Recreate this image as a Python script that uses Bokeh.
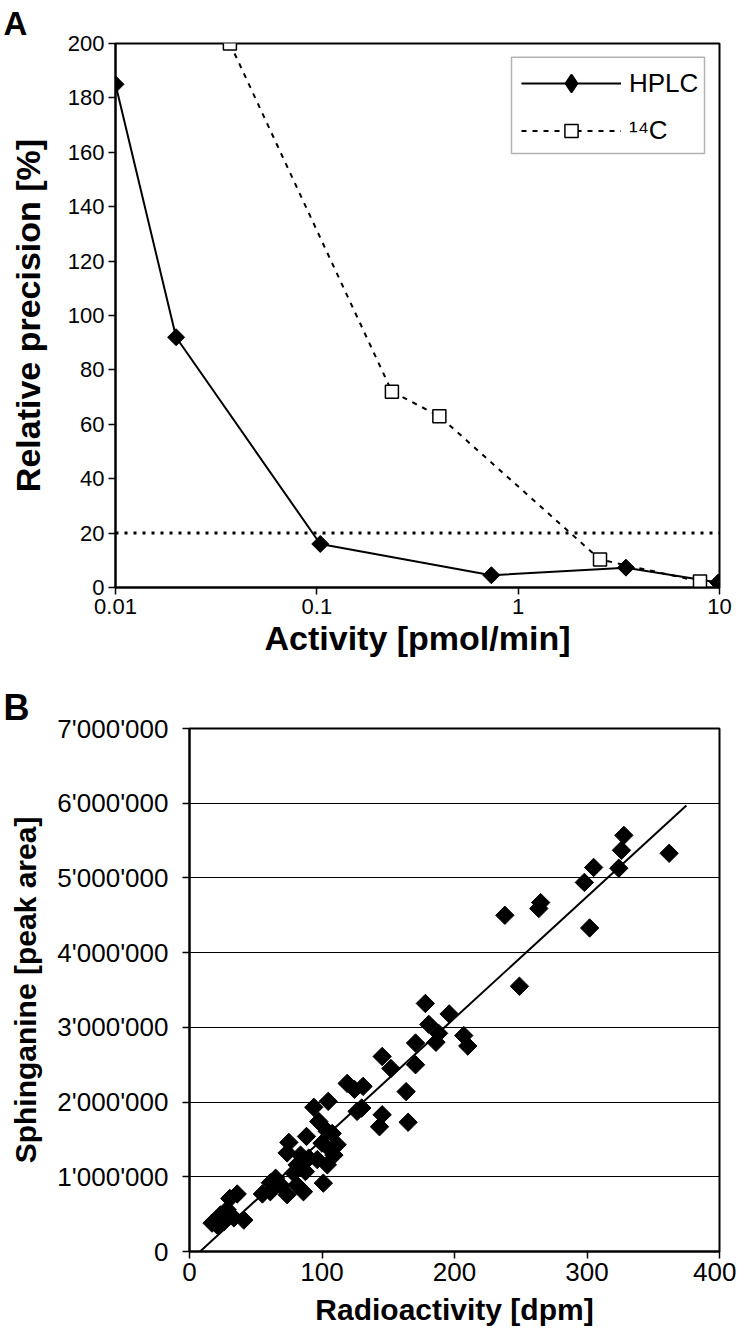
import numpy as np
from bokeh.plotting import figure
from bokeh.models import (FixedTicker, Span, Legend, LegendItem, BoxAnnotation, Title,
                          ColumnDataSource)
from bokeh.core.properties import value
from bokeh.embed import file_html
from bokeh.resources import INLINE

# ---------------- Panel A data ----------------
hplc_activity = [0.01, 0.02, 0.104, 0.736, 3.43, 9.85]
hplc_precision = [185, 92, 16, 4.5, 7.3, 1.8]
c14_activity = [0.037, 0.236, 0.406, 2.55, 8.0]
c14_precision = [200, 72, 63, 10.3, 2.2]
precision_threshold = 20
a_xticks = [0.01, 0.1, 1, 10]
a_xtick_labels = ["0.01", "0.1", "1", "10"]
a_yticks = [0, 20, 40, 60, 80, 100, 120, 140, 160, 180, 200]

# ---------------- Panel B data ----------------
radio_dpm = [327.8, 326, 324, 305, 298, 362, 265, 263.6, 238, 302,
             249, 178, 196, 180.6, 188, 186, 170.6, 207, 210, 145.4,
             152, 170.6, 163.5, 119, 124.5, 131, 130, 126.5, 104.7, 93.8,
             145.4, 143.4, 165, 97.6, 103.9, 107.7, 88.3, 75, 111.4, 73.7,
             109, 83.8, 90, 96.4, 81.3, 104, 87.5, 101, 65, 68.7,
             61, 55, 73.7, 81, 86, 78.7, 36, 30.4, 41, 33.5,
             28.4, 23.4, 17, 21, 26, 61, 100, 107]
peak_area_millions = [5.57, 5.37, 5.13, 5.14, 4.94, 5.33, 4.67, 4.59, 4.50, 4.33,
                      3.55, 3.32, 3.18, 3.04, 2.92, 2.80, 2.79, 2.89, 2.75, 2.61,
                      2.45, 2.50, 2.14, 2.25, 2.17, 2.21, 1.92, 1.875, 2.01, 1.93,
                      1.83, 1.67, 1.73, 1.74, 1.61, 1.58, 1.54, 1.46, 1.43, 1.32,
                      1.29, 1.29, 1.25, 1.23, 1.16, 1.16, 1.07, 0.915, 0.98, 0.89,
                      0.92, 0.77, 0.76, 0.89, 0.80, 1.05, 0.77, 0.71, 0.42, 0.45,
                      0.56, 0.49, 0.38, 0.35, 0.40, 0.80, 1.45, 1.35]
fit_dpm = [0, 375]
fit_area = [-130000, 5970000]
b_xticks = [0, 100, 200, 300, 400]
b_yticks = [0, 1000000, 2000000, 3000000, 4000000, 5000000, 6000000, 7000000]
b_ytick_labels = ["0", "1'000'000", "2'000'000", "3'000'000", "4'000'000",
                  "5'000'000", "6'000'000", "7'000'000"]

peak_area = [v * 1e6 for v in peak_area_millions]

FONT = "Liberation Sans"


def style_axis(ax, size, title_size):
    ax.axis_line_width = 2
    ax.axis_line_color = "black"
    ax.major_tick_line_width = 1.5
    ax.major_tick_line_color = "black"
    ax.major_tick_out = 7
    ax.major_tick_in = 0
    ax.minor_tick_line_color = None
    ax.major_label_text_font = FONT
    ax.major_label_text_font_size = size
    ax.major_label_text_color = "black"
    ax.axis_label_text_font = FONT
    ax.axis_label_text_font_size = title_size
    ax.axis_label_text_font_style = "bold"
    ax.axis_label_text_color = "black"


# ---------------- Figure A ----------------
pA = figure(width=736, height=664, x_axis_type="log", x_range=(0.01, 10), y_range=(0, 200),
            output_backend="svg", toolbar_location=None,
            min_border_left=115, min_border_right=17, min_border_top=43, min_border_bottom=77)
pA.title = Title(text="A", align="left", offset=-112, vertical_align="top", standoff=0,
                 text_font=FONT, text_font_size="33px", text_font_style="bold",
                 text_color="black")
pA.xgrid.visible = False
pA.ygrid.visible = False
pA.outline_line_color = "black"
pA.outline_line_width = 2

pA.xaxis.ticker = FixedTicker(ticks=a_xticks)
pA.xaxis.major_label_overrides = dict(zip(a_xticks, a_xtick_labels))
pA.yaxis.ticker = FixedTicker(ticks=a_yticks)
pA.xaxis.axis_label = "Activity [pmol/min]"
pA.yaxis.axis_label = "Relative precision [%]"
style_axis(pA.xaxis[0], "22px", "34px")
style_axis(pA.yaxis[0], "22px", "34px")
pA.xaxis.major_label_standoff = 4
pA.xaxis.axis_label_standoff = 2
pA.yaxis.major_label_standoff = 4
pA.yaxis.axis_label_standoff = 18

pA.add_layout(Span(location=precision_threshold, dimension="width", line_color="black",
                   line_dash="3 6", line_width=3))

hplc_src = ColumnDataSource(dict(x=hplc_activity, y=hplc_precision))
l1 = pA.line("x", "y", source=hplc_src, line_color="black", line_width=2)
pA.scatter("x", "y", source=hplc_src, marker="square", angle=np.pi / 4, size=12,
           fill_color="black", line_color="black")
l2 = pA.line(c14_activity, c14_precision, line_color="black", line_width=2, line_dash="5 6")
s2 = pA.scatter(c14_activity, c14_precision, marker="square", size=13,
                fill_color="white", line_color="black", line_width=1.5)
# legend-only proxy glyph (legend markers are drawn unrotated); its points sit far
# below the visible y range, so only the legend sample is seen
legend_diamond = pA.scatter(x="x", y=value(-5000), source=hplc_src,
                            marker="diamond", size=14, fill_color="black",
                            line_color="black", line_width=3, line_join="round")

# legend frame
pA.add_layout(BoxAnnotation(left=0.9266, right=8.424, bottom=159.6, top=194.9,
                            fill_color="white", fill_alpha=1, line_color="black",
                            line_width=1.5))


def make_legend(item, loc, gh):
    lg = Legend(items=[item], location=loc)
    lg.border_line_color = None
    lg.background_fill_alpha = 0
    lg.glyph_width = 100
    lg.glyph_height = gh
    lg.label_height = gh
    lg.padding = 0
    lg.margin = 0
    lg.spacing = 0
    lg.label_standoff = 8
    lg.label_text_font = FONT
    lg.label_text_font_size = "26px"
    lg.label_text_color = "black"
    return lg


pA.add_layout(make_legend(LegendItem(label="HPLC", renderers=[l1, legend_diamond]),
                          (406, 484), 40))
pA.add_layout(make_legend(LegendItem(label="\u00b9\u2074C", renderers=[l2, s2]),
                          (406, 440), 33))

# ---------------- Figure B ----------------
pB = figure(width=736, height=678, x_range=(0, 400), y_range=(0, 7000000),
            output_backend="svg", toolbar_location=None,
            min_border_left=189, min_border_right=17, min_border_top=64, min_border_bottom=91)
pB.title = Title(text="B", align="left", offset=-186, vertical_align="middle", standoff=0,
                 text_font=FONT, text_font_size="36px", text_font_style="bold",
                 text_color="black")
pB.xgrid.visible = False
pB.ygrid.grid_line_color = "black"
pB.ygrid.grid_line_width = 1
pB.outline_line_color = "black"
pB.outline_line_width = 2

pB.xaxis.ticker = FixedTicker(ticks=b_xticks)
pB.yaxis.ticker = FixedTicker(ticks=b_yticks)
pB.yaxis.major_label_overrides = dict(zip(b_yticks, b_ytick_labels))
pB.xaxis.axis_label = "Radioactivity [dpm]"
pB.yaxis.axis_label = "Sphinganine [peak area]"
style_axis(pB.xaxis[0], "26px", "30px")
style_axis(pB.yaxis[0], "26px", "30px")
pB.xaxis.major_label_standoff = 4
pB.xaxis.axis_label_standoff = 9
pB.yaxis.major_label_standoff = 14
pB.yaxis.axis_label_standoff = 12

pB.line(fit_dpm, fit_area, line_color="black", line_width=2)
pB.scatter(radio_dpm, peak_area, marker="square", angle=np.pi / 4, size=13,
           fill_color="black", line_color="black")

open("out.html", "w").write(file_html([pA, pB], INLINE))
